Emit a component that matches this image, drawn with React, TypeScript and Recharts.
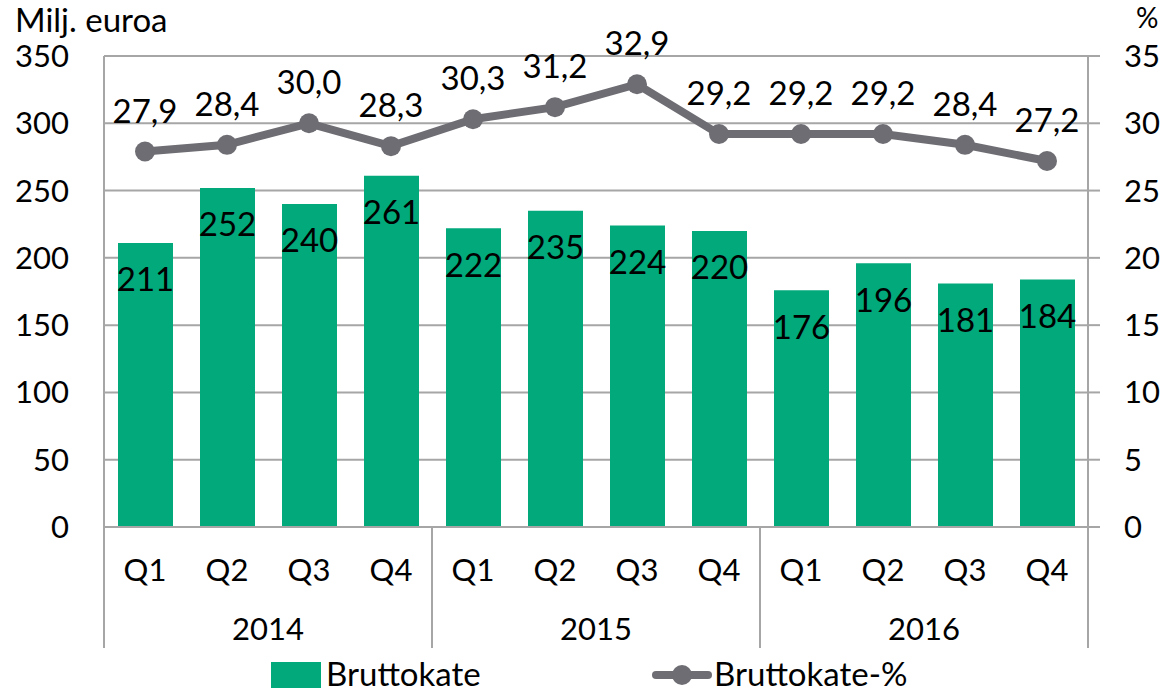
import React from 'react';
import {
  ComposedChart,
  Bar,
  Line,
  XAxis,
  YAxis,
  CartesianGrid,
  LabelList,
  Legend,
} from 'recharts';

const quarters = ['Q1', 'Q2', 'Q3', 'Q4', 'Q1', 'Q2', 'Q3', 'Q4', 'Q1', 'Q2', 'Q3', 'Q4'];
const years = ['2014', '2014', '2014', '2014', '2015', '2015', '2015', '2015', '2016', '2016', '2016', '2016'];
const bruttokate = [211, 252, 240, 261, 222, 235, 224, 220, 176, 196, 181, 184];
const bruttokatePct = [27.9, 28.4, 30.0, 28.3, 30.3, 31.2, 32.9, 29.2, 29.2, 29.2, 28.4, 27.2];
const leftTicks = [0, 50, 100, 150, 200, 250, 300, 350];
const rightTicks = [0, 5, 10, 15, 20, 25, 30, 35];

const data = quarters.map((q, i) => ({
  key: `${years[i]}-${q}`,
  q,
  year: years[i],
  bruttokate: bruttokate[i],
  pct: bruttokatePct[i],
}));

const FONT = 'Lato, "Open Sans", sans-serif';
const GREEN = '#02a97a';
const LINE_GREY = '#6e6d73';
const AXIS_GREY = '#a6a6a6';

const fmtPct = (v: any) => Number(v).toFixed(1).replace('.', ',');

// quarter label, year label (once per year) and the year separators
const CategoryTick = (props: any) => {
  const { x, y, payload, index } = props;
  const half = payload?.offset ?? 41;
  const q = data[index];
  return (
    <g>
      <text x={x} y={y + 42} textAnchor="middle" dominantBaseline="central" fontSize={31} fill="#000">
        {q.q}
      </text>
      {index % 4 === 1 && (
        <text x={x + half} y={y + 101} textAnchor="middle" dominantBaseline="central" fontSize={31} fill="#000">
          {q.year}
        </text>
      )}
      {index % 4 === 0 && (
        <line x1={x - half} x2={x - half} y1={y} y2={y + 121} stroke={AXIS_GREY} strokeWidth={2} />
      )}
      {index === data.length - 1 && (
        <line x1={x + half} x2={x + half} y1={y} y2={y + 121} stroke={AXIS_GREY} strokeWidth={2} />
      )}
    </g>
  );
};

const LegendContent = () => (
  <svg width={1163} height={45} style={{ display: 'block', fontFamily: FONT, overflow: 'visible' }}>
    <rect x={271} y={14} width={50} height={26} fill={GREEN} />
    <text x={326} y={25} dominantBaseline="central" fontSize={33} fill="#000">
      Bruttokate
    </text>
    <line x1={656} x2={708} y1={27} y2={27} stroke={LINE_GREY} strokeWidth={8} strokeLinecap="round" />
    <circle cx={682} cy={27} r={10} fill={LINE_GREY} />
    <text x={714} y={25} dominantBaseline="central" fontSize={33} fill="#000">
      Bruttokate-%
    </text>
  </svg>
);

export default function App() {
  return (
    <div
      style={{
        position: 'absolute',
        left: 0,
        top: 0,
        width: 1163,
        height: 693,
        background: '#fff',
        fontFamily: FONT,
        overflow: 'hidden',
      }}
    >
      <div style={{ position: 'absolute', left: 15, top: 2, fontSize: 33, lineHeight: '34px', color: '#000' }}>
        Milj. euroa
      </div>
      <div style={{ position: 'absolute', left: 1136, top: 0, fontSize: 28, lineHeight: '34px', color: '#000' }}>
        %
      </div>
      <ComposedChart
        width={1163}
        height={693}
        data={data}
        margin={{ top: 56, right: 0, bottom: 0, left: 0 }}
      >
        <CartesianGrid yAxisId="left" vertical={false} stroke={AXIS_GREY} strokeWidth={2} />
        <XAxis
          dataKey="key"
          interval={0}
          height={121}
          tickSize={0}
          tickMargin={0}
          tickLine={false}
          axisLine={{ stroke: AXIS_GREY, strokeWidth: 2 }}
          tick={<CategoryTick />}
        />
        <YAxis
          yAxisId="left"
          width={104}
          domain={[0, 350]}
          ticks={leftTicks}
          interval={0}
          tickSize={0}
          tickMargin={35}
          tickLine={false}
          axisLine={{ stroke: AXIS_GREY, strokeWidth: 2 }}
          tick={{ fontSize: 31, fill: '#000' }}
        />
        <YAxis
          yAxisId="right"
          orientation="right"
          width={75}
          domain={[0, 35]}
          ticks={rightTicks}
          interval={0}
          tickSize={12}
          tickMargin={24}
          tickLine={{ stroke: AXIS_GREY, strokeWidth: 2 }}
          axisLine={{ stroke: AXIS_GREY, strokeWidth: 2 }}
          tick={{ fontSize: 31, fill: '#000', textAnchor: 'start' }}
        />
        <Legend
          verticalAlign="bottom"
          height={45}
          wrapperStyle={{ left: 0, bottom: 0, width: 1163, height: 45 }}
          content={<LegendContent />}
        />
        <Bar
          yAxisId="left"
          dataKey="bruttokate"
          name="Bruttokate"
          fill={GREEN}
          barSize={55}
          isAnimationActive={false}
        >
          <LabelList dataKey="bruttokate" position="insideTop" offset={25} fontSize={33} fill="#000" />
        </Bar>
        <Line
          yAxisId="right"
          type="linear"
          dataKey="pct"
          name="Bruttokate-%"
          stroke={LINE_GREY}
          strokeWidth={8}
          dot={{ r: 10, fill: LINE_GREY, stroke: 'none' }}
          activeDot={false}
          isAnimationActive={false}
        >
          <LabelList dataKey="pct" position="top" offset={29} fontSize={33} fill="#000" formatter={fmtPct} />
        </Line>
      </ComposedChart>
    </div>
  );
}
